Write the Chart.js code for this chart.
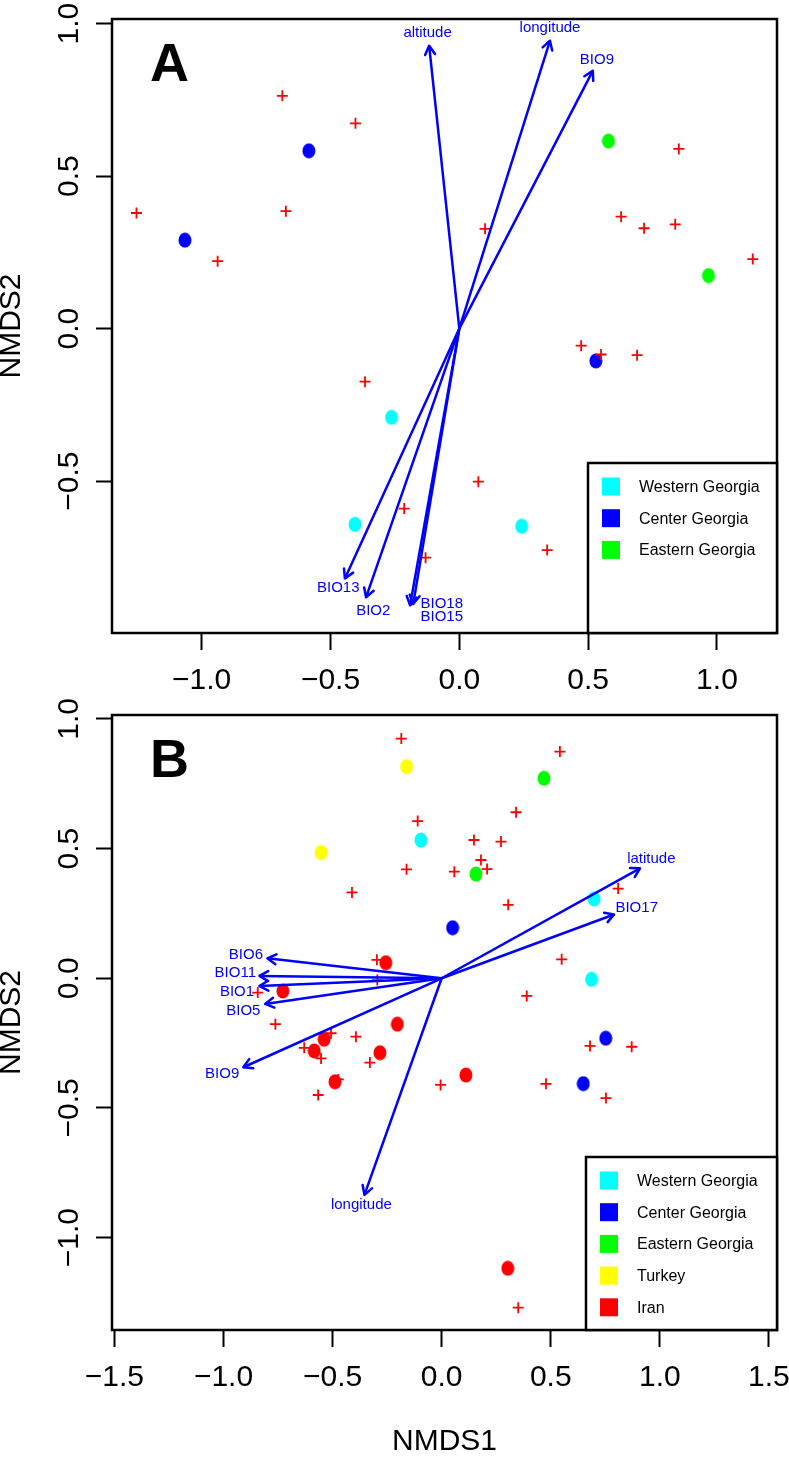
<!DOCTYPE html>
<html>
<head>
<meta charset="utf-8">
<script src="https://cdn.jsdelivr.net/npm/chart.js@4.4.1/dist/chart.umd.min.js"></script>
<style>
  body { margin: 0; background: #fff; }
  #wrap { position: relative; width: 789px; height: 1457px; }
  canvas { position: absolute; left: 0; }
  #chartA { top: 0; }
  #chartB { top: 680px; }
</style>
</head>
<body>
<div id="wrap">
  <canvas id="chartA" width="789" height="700"></canvas>
  <canvas id="chartB" width="789" height="777"></canvas>
</div>
<script>
// ---------- panel A data ----------
const groupsA = ["Western Georgia", "Center Georgia", "Eastern Georgia"];
const westernA = [[-0.263, -0.291], [-0.405, -0.642], [0.242, -0.648]];
const centerA = [[-1.065, 0.290], [-0.584, 0.583], [0.530, -0.106]];
const easternA = [[0.579, 0.615], [0.967, 0.174]];
const crossesA = [
  [-1.253, 0.379], [-0.938, 0.221], [-0.687, 0.763], [-0.403, 0.673], [-0.673, 0.385],
  [0.100, 0.327], [0.628, 0.367], [0.717, 0.329], [0.838, 0.342], [1.139, 0.228],
  [0.852, 0.589], [0.473, -0.056], [0.550, -0.085], [0.690, -0.087], [-0.366, -0.174],
  [0.074, -0.502], [-0.214, -0.590], [0.341, -0.726], [-0.131, -0.751]
];
const vecNamesA = ["altitude", "longitude", "BIO9", "BIO13", "BIO2", "BIO18", "BIO15"];
const vecXA = [-0.117, 0.352, 0.518, -0.444, -0.362, -0.191, -0.179];
const vecYA = [0.927, 0.944, 0.845, -0.819, -0.881, -0.907, -0.903];
const labXA = [-0.123, 0.352, 0.534, -0.470, -0.334, -0.068, -0.068];
const labYA = [0.971, 0.986, 0.880, -0.849, -0.925, -0.901, -0.945];
const xTicksA = [-1, -0.5, 0, 0.5, 1];
const yTicksA = [-0.5, 0, 0.5, 1];
const xRangeA = [-1.348, 1.233];
const yRangeA = [-0.998, 1.015];

// ---------- panel B data ----------
const groupsB = ["Western Georgia", "Center Georgia", "Eastern Georgia", "Turkey", "Iran"];
const westernB = [[-0.095, 0.533], [0.699, 0.306], [0.687, -0.004]];
const centerB = [[0.050, 0.195], [0.752, -0.231], [0.649, -0.406]];
const easternB = [[0.469, 0.771], [0.157, 0.402]];
const turkeyB = [[-0.161, 0.816], [-0.552, 0.485]];
const iranB = [
  [-0.256, 0.060], [-0.728, -0.049], [-0.203, -0.177], [-0.539, -0.235], [-0.584, -0.280],
  [-0.283, -0.287], [-0.489, -0.399], [0.111, -0.373], [0.303, -1.118]
];
const crossesB = [
  [-0.185, 0.924], [0.542, 0.874], [0.341, 0.640], [-0.110, 0.606], [0.148, 0.533], [0.272, 0.527],
  [0.180, 0.456], [0.208, 0.421], [0.058, 0.411], [-0.161, 0.420], [-0.411, 0.331], [0.305, 0.283],
  [0.809, 0.346], [0.550, 0.073], [-0.297, 0.071], [-0.295, -0.007], [0.390, -0.068], [-0.843, -0.055],
  [-0.762, -0.177], [-0.507, -0.212], [-0.393, -0.225], [-0.630, -0.268], [-0.553, -0.309], [-0.329, -0.325],
  [-0.474, -0.390], [-0.566, -0.450], [-0.005, -0.411], [0.478, -0.407], [0.680, -0.261], [0.871, -0.264],
  [0.753, -0.462], [0.351, -1.270]
];
const vecNamesB = ["latitude", "BIO17", "BIO6", "BIO11", "BIO1", "BIO5", "BIO9", "longitude"];
const vecXB = [0.909, 0.790, -0.799, -0.835, -0.835, -0.809, -0.909, -0.354];
const vecYB = [0.424, 0.246, 0.077, 0.009, -0.030, -0.099, -0.343, -0.835];
const labXB = [0.961, 0.894, -0.897, -0.946, -0.938, -0.909, -1.006, -0.368];
const labYB = [0.459, 0.270, 0.089, 0.019, -0.052, -0.125, -0.368, -0.874];
const xTicksB = [-1.5, -1, -0.5, 0, 0.5, 1, 1.5];
const yTicksB = [-1, -0.5, 0, 0.5, 1];
const xRangeB = [-1.511, 1.537];
const yRangeB = [-1.356, 1.015];

// ---------- styles ----------
const FONT = '"Liberation Sans", Arial, Helvetica, sans-serif';
const ARROW = "#0000ff";
const CROSS = "#ff0000";
const groupColors = {
  "Western Georgia": "#00ffff",
  "Center Georgia": "#0000ff",
  "Eastern Georgia": "#00ff00",
  "Turkey": "#ffff00",
  "Iran": "#ff0000"
};

Chart.defaults.font.family = FONT;
Chart.defaults.color = "#000";

// slightly tall ellipse like the R points
function dotImage(color) {
  const c = document.createElement("canvas");
  c.width = 14; c.height = 16;
  const g = c.getContext("2d");
  g.fillStyle = color;
  g.beginPath();
  g.ellipse(7, 8, 6.5, 7.5, 0, 0, Math.PI * 2);
  g.fill();
  return c;
}

const fmt = v => (v < 0 ? "\u2212" : "") + Math.abs(v).toFixed(1);

const decor = {
  id: "decor",
  afterDatasetsDraw(chart, args, o) {
    const ctx = chart.ctx;
    const xs = chart.scales.x, ys = chart.scales.y;
    const x0 = xs.getPixelForValue(0), y0 = ys.getPixelForValue(0);
    ctx.save();
    // arrow heads and vector labels
    ctx.strokeStyle = ARROW;
    ctx.fillStyle = ARROW;
    ctx.lineWidth = 2.5;
    ctx.lineCap = "round";
    ctx.lineJoin = "round";
    ctx.font = "15px " + FONT;
    ctx.textAlign = "center";
    ctx.textBaseline = "middle";
    o.names.forEach((n, i) => {
      const x1 = xs.getPixelForValue(o.vx[i]), y1 = ys.getPixelForValue(o.vy[i]);
      const a = Math.atan2(y1 - y0, x1 - x0);
      const len = 10, sp = Math.PI / 6;
      ctx.beginPath();
      ctx.moveTo(x1 - len * Math.cos(a - sp), y1 - len * Math.sin(a - sp));
      ctx.lineTo(x1, y1);
      ctx.lineTo(x1 - len * Math.cos(a + sp), y1 - len * Math.sin(a + sp));
      ctx.stroke();
      ctx.fillText(n, xs.getPixelForValue(o.lx[i]), ys.getPixelForValue(o.ly[i]));
    });
    ctx.restore();
  },
  afterDraw(chart, args, o) {
    const ctx = chart.ctx, a = chart.chartArea;
    ctx.save();
    // plot frame
    ctx.strokeStyle = "#000";
    ctx.lineWidth = 2.5;
    ctx.strokeRect(a.left, a.top, a.right - a.left, a.bottom - a.top);
    // panel letter
    ctx.fillStyle = "#000";
    ctx.font = "bold 54px " + FONT;
    ctx.textAlign = "center";
    ctx.textBaseline = "middle";
    ctx.fillText(o.letter, a.left + 57.5, a.top + 47.5);
    // legend box, bottom right
    const lw = o.legendW, lh = o.legendH;
    const lx = a.right - lw, ly = a.bottom - lh;
    ctx.fillStyle = "#fff";
    ctx.fillRect(lx, ly, lw, lh);
    ctx.strokeRect(lx, ly, lw, lh);
    ctx.font = "16px " + FONT;
    ctx.textAlign = "left";
    o.groups.forEach((g, i) => {
      const ry = ly + 23.5 + i * 31.7;
      ctx.fillStyle = groupColors[g];
      ctx.fillRect(lx + 14, ry - 9, 18, 18);
      ctx.fillStyle = "#000";
      ctx.fillText(g, lx + 51, ry + 1);
    });
    ctx.restore();
  }
};

function axis(range, ticks, isX, size, title) {
  return {
    type: "linear",
    min: range[0],
    max: range[1],
    afterBuildTicks: s => { s.ticks = ticks.map(v => ({ value: v })); },
    afterFit: s => {
      // fixed axis band, and no extra room for overhanging end labels
      if (isX) s.height = size; else s.width = size;
      s.paddingLeft = 0; s.paddingRight = 0; s.paddingTop = 0; s.paddingBottom = 0;
    },
    grid: { drawOnChartArea: false, drawTicks: true, tickLength: isX ? 17 : 16, tickWidth: 2, tickColor: "#000" },
    border: { display: false },
    ticks: isX
      ? { autoSkip: false, minRotation: 0, maxRotation: 0, padding: 13, color: "#000", font: { size: 30 }, callback: fmt }
      : { autoSkip: false, minRotation: 90, maxRotation: 90, crossAlign: "center", padding: -3, color: "#000", font: { size: 30 }, callback: fmt },
    title: title
      ? { display: true, text: title, color: "#000", font: { size: 30, lineHeight: isX ? 1 : 0.8 }, padding: 0 }
      : { display: false }
  };
}

function makeChart(id, p) {
  const datasets = [];
  p.names.forEach((n, i) => datasets.push({
    type: "line",
    label: n,
    data: [{ x: 0, y: 0 }, { x: p.vx[i], y: p.vy[i] }],
    showLine: true,
    borderColor: ARROW,
    borderWidth: 2.5,
    pointRadius: 0,
    fill: false,
    order: 0
  }));
  datasets.push({
    label: "species",
    data: p.crosses.map(c => ({ x: c[0], y: c[1] })),
    pointStyle: "cross",
    pointRadius: 5.5,
    borderColor: CROSS,
    borderWidth: 1.8,
    order: 1
  });
  p.groups.forEach((g, i) => datasets.push({
    label: g,
    data: p.points[i].map(c => ({ x: c[0], y: c[1] })),
    pointStyle: dotImage(groupColors[g]),
    pointRadius: 7,
    order: 2
  }));

  return new Chart(document.getElementById(id), {
    type: "scatter",
    data: { datasets },
    options: {
      responsive: false,
      animation: false,
      layout: { autoPadding: false, padding: { top: p.padTop, right: 12, left: 0, bottom: 0 } },
      plugins: {
        legend: { display: false },
        tooltip: { enabled: false },
        decor: {
          letter: p.letter, names: p.names, vx: p.vx, vy: p.vy, lx: p.lx, ly: p.ly,
          groups: p.groups, legendW: p.legendW, legendH: p.legendH
        }
      },
      scales: {
        x: axis(p.xRange, p.xTicks, true, p.xHeight, p.xTitle),
        y: axis(p.yRange, p.yTicks, false, 112, "NMDS2")
      }
    },
    plugins: [decor]
  });
}

makeChart("chartA", {
  letter: "A", groups: groupsA, points: [westernA, centerA, easternA], crosses: crossesA,
  names: vecNamesA, vx: vecXA, vy: vecYA, lx: labXA, ly: labYA,
  xRange: xRangeA, yRange: yRangeA, xTicks: xTicksA, yTicks: yTicksA,
  padTop: 19, xHeight: 67, xTitle: null, legendW: 189, legendH: 170
});

makeChart("chartB", {
  letter: "B", groups: groupsB, points: [westernB, centerB, easternB, turkeyB, iranB], crosses: crossesB,
  names: vecNamesB, vx: vecXB, vy: vecYB, lx: labXB, ly: labYB,
  xRange: xRangeB, yRange: yRangeB, xTicks: xTicksB, yTicks: yTicksB,
  padTop: 35, xHeight: 127, xTitle: "NMDS1", legendW: 191, legendH: 173
});
</script>
</body>
</html>
